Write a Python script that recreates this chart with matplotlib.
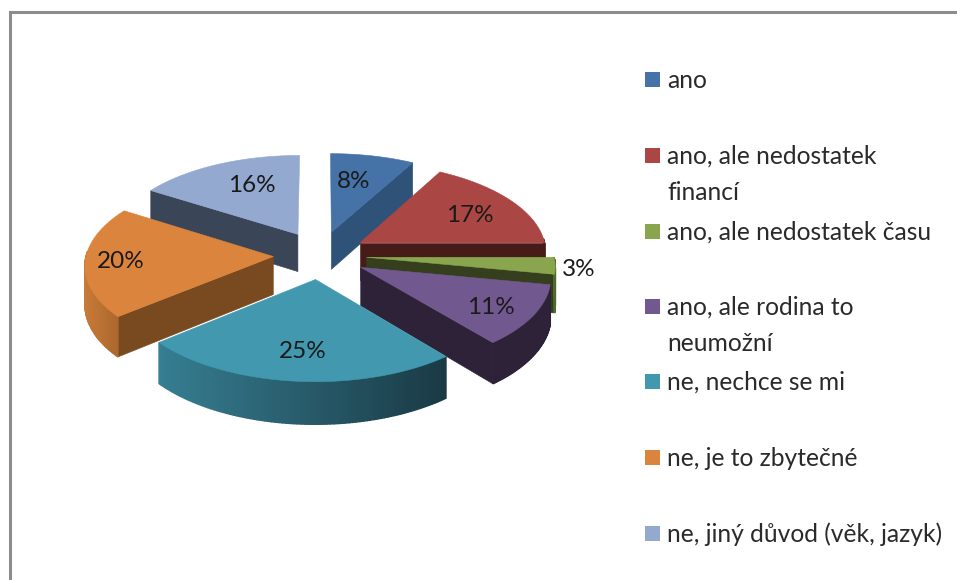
"""
Exploded 3D pie with a perspective tilt, drawn by hand because matplotlib
has no 3D pie. Axes run in picture pixels.
"""

import numpy as np
import matplotlib
matplotlib.use('Agg')
import matplotlib.pyplot as plt
from matplotlib.colors import to_rgb
from matplotlib.patches import Polygon, Rectangle

plt.rcParams['font.family'] = ['Lato', 'DejaVu Sans']

# ======================== DATA ========================

categories = ['ano', 'ano, ale nedostatek\nfinancí', 'ano, ale nedostatek času',
              'ano, ale rodina to\nneumožní', 'ne, nechce se mi',
              'ne, je to zbytečné', 'ne, jiný důvod (věk, jazyk)']
values = [8, 17, 3, 11, 25, 20, 16]

# ======================== STYLE ========================

top_colors = ['#4572A7', '#AA4643', '#89A54E', '#71588F', '#4198AF', '#DB843D', '#93A9CF']
side_colors = ['#2F5279', '#471B18', '#353F1D', '#2D2238', '#1B3B46', '#794A1F', '#3B4558']
arc_left = ['#2F5279', '#471B18', '#4F6A2A', '#2D2238', '#367E92', '#C87A38', '#3B4558']
arc_right = ['#2F5279', '#471B18', '#4F6A2A', '#2D2238', '#1A3A45', '#A8652C', '#3B4558']
draw_order = [0, 6, 1, 2, 3, 5, 4]

label_pos = [(354, 182), (470, 215), (579, 269), (491, 307), (303, 352), (121, 261), (252, 186)]
legend_y = [79, 155, 231, 306, 381, 457, 533]

CX, CY = 320, 255
RX, RY = 187, 89
PERSP = 0.0855
EXPLODE_U, EXPLODE_V = 0.25, 0.27
DEPTH = 38


def project(u, v, z=0.0):
    """Disc coordinates (v points away from the viewer) to picture pixels."""
    scale = 1.0 / (1.0 + PERSP * v)
    return CX + RX * u * scale, CY - RY * v * scale + DEPTH * z * scale


def draw_poly(ax, x, y, color, zorder, lw=0.4):
    ax.add_patch(Polygon(np.column_stack([x, y]), closed=True, facecolor=color,
                         edgecolor=color, linewidth=lw, zorder=zorder))


def draw_slice(ax, start, end, i, zorder):
    mid = (start + end) / 2
    cu, cv = EXPLODE_U * np.sin(mid), EXPLODE_V * np.cos(mid)
    t = np.linspace(start, end, 90)
    u = cu + np.sin(t)
    v = cv + np.cos(t)

    # radial walls, only the ones facing the viewer
    for angle, sign in ((start, -1), (end, 1)):
        normal_v = -sign * np.sin(angle)
        if normal_v < -1e-6:
            eu, ev = cu + np.sin(angle), cv + np.cos(angle)
            x0, y0 = project(cu, cv)
            x1, y1 = project(eu, ev)
            x2, y2 = project(eu, ev, 1)
            x3, y3 = project(cu, cv, 1)
            draw_poly(ax, [x0, x1, x2, x3], [y0, y1, y2, y3], side_colors[i], zorder)

    # outer wall in small strips, the shade changes from left to right
    x_top, y_top = project(u, v)
    x_bot, y_bot = project(u, v, 1)
    left, right = np.array(to_rgb(arc_left[i])), np.array(to_rgb(arc_right[i]))
    span = max(x_top.max() - x_top.min(), 1)
    for k in range(len(t) - 1):
        # only the part of the rim on the near side shows
        if np.cos(t[k]) > 0.05:
            continue
        f = (x_top[k] - x_top.min()) / span
        color = left + (right - left) * f
        draw_poly(ax, [x_top[k], x_top[k + 1], x_bot[k + 1], x_bot[k]],
                  [y_top[k], y_top[k + 1], y_bot[k + 1], y_bot[k]], color, zorder + 0.1, lw=1.0)

    # top face
    xa, ya = project(cu, cv)
    draw_poly(ax, np.r_[xa, x_top], np.r_[ya, y_top], top_colors[i], zorder + 0.2)


def main():
    fig = plt.figure(figsize=(9.57, 5.8), dpi=100)
    ax = fig.add_axes([0, 0, 1, 1])
    ax.set_xlim(0, 957)
    ax.set_ylim(580, 0)
    ax.axis('off')

    # chart frame runs off the picture on the right and at the bottom
    ax.plot([9.5, 9.5, 957], [580, 11.5, 11.5], color='#8c8c8c', linewidth=2.2,
            solid_joinstyle='miter', zorder=1)

    edges = 2 * np.pi * np.r_[0, np.cumsum(values)] / np.sum(values)
    for order, i in enumerate(draw_order):
        draw_slice(ax, edges[i], edges[i + 1], i, 2 + order)

    for i, (x, y) in enumerate(label_pos):
        ax.text(x, y, f'{values[i]}%', ha='center', va='center', fontsize=17.5,
                color='#1a1a1a', zorder=20)

    for i, y in enumerate(legend_y):
        ax.add_patch(Rectangle((645, y - 7.5), 15, 15, facecolor=top_colors[i],
                               edgecolor='none', zorder=20))
        ax.text(667, y - 10.5, categories[i], ha='left', va='top', fontsize=17.7,
                color='#2a2a2a', linespacing=1.72, zorder=20)

    fig.savefig('out.png', dpi=100)


if __name__ == "__main__":
    main()
